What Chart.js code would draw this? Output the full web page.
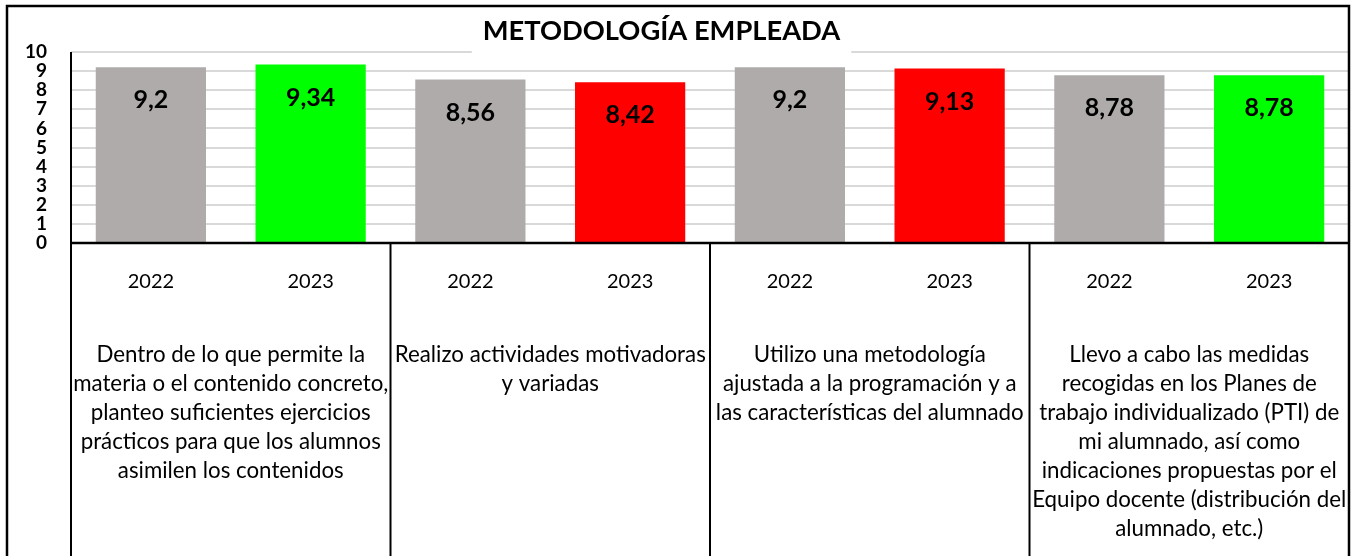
<!DOCTYPE html>
<html>
<head>
<meta charset="utf-8">
<script src="https://cdn.jsdelivr.net/npm/chart.js@4.4.1/dist/chart.umd.min.js"></script>
<style>
html,body{margin:0;padding:0;background:#fff;}
canvas{display:block;}
</style>
</head>
<body>
<canvas id="c" width="1354" height="556"></canvas>
<script>
const chartTitle = 'METODOLOGÍA EMPLEADA';
const categories = ['2022', '2023', '2022', '2023', '2022', '2023', '2022', '2023'];
const values = [9.2, 9.34, 8.56, 8.42, 9.2, 9.13, 8.78, 8.78];
const groupLabels = [
  ['Dentro de lo que permite la', 'materia o el contenido concreto,', 'planteo suficientes ejercicios', 'prácticos para que los alumnos', 'asimilen los contenidos'],
  ['Realizo actividades motivadoras', 'y variadas'],
  ['Utilizo una metodología', 'ajustada a la programación y a', 'las características del alumnado'],
  ['Llevo a cabo las medidas', 'recogidas en los Planes de', 'trabajo individualizado (PTI) de', 'mi alumnado, así como', 'indicaciones propuestas por el', 'Equipo docente (distribución del', 'alumnado, etc.)']
];
const yMin = 0, yMax = 10, yStep = 1;
const barColors = ['#AFABAB', '#00FF00', '#AFABAB', '#FF0000', '#AFABAB', '#FF0000', '#AFABAB', '#00FF00'];

const FONT = 'Lato, "Open Sans", sans-serif';

const decor = {
  id: 'decor',
  afterDatasetsDraw(chart) {
    const ctx = chart.ctx;
    const meta = chart.getDatasetMeta(0);
    ctx.save();
    ctx.fillStyle = '#000';
    ctx.font = 'bold 25px ' + FONT;
    ctx.textAlign = 'center';
    ctx.textBaseline = 'middle';
    meta.data.forEach((bar, i) => {
      const txt = String(values[i]).replace('.', ',');
      ctx.fillText(txt, bar.x, bar.y + 33);
    });
    ctx.restore();
  },
  afterDraw(chart) {
    const ctx = chart.ctx;
    const ca = chart.chartArea;
    const xs = chart.scales.x;
    const H = chart.height;
    ctx.save();
    ctx.strokeStyle = '#000';
    // outer border
    ctx.lineWidth = 2.5;
    ctx.beginPath();
    ctx.moveTo(7, H + 5); ctx.lineTo(7, 6); ctx.lineTo(ca.right, 6); ctx.lineTo(ca.right, H + 5);
    ctx.stroke();
    // y axis line
    ctx.lineWidth = 2;
    ctx.beginPath();
    ctx.moveTo(ca.left, ca.top); ctx.lineTo(ca.left, H + 5);
    ctx.stroke();
    // x axis line
    ctx.lineWidth = 2.5;
    ctx.beginPath();
    ctx.moveTo(ca.left, ca.bottom); ctx.lineTo(ca.right, ca.bottom);
    ctx.stroke();
    // group separators
    ctx.lineWidth = 2;
    const n = categories.length;
    const per = n / groupLabels.length;
    for (let g = 1; g < groupLabels.length; g++) {
      const x = (xs.getPixelForValue(g * per - 1) + xs.getPixelForValue(g * per)) / 2;
      ctx.beginPath();
      ctx.moveTo(x, ca.bottom); ctx.lineTo(x, H + 5);
      ctx.stroke();
    }
    // group labels
    ctx.fillStyle = '#000';
    ctx.font = '22.3px ' + FONT;
    ctx.textAlign = 'center';
    ctx.textBaseline = 'middle';
    groupLabels.forEach((lines, g) => {
      const cx = (xs.getPixelForValue(g * per) + xs.getPixelForValue(g * per + per - 1)) / 2;
      lines.forEach((ln, k) => ctx.fillText(ln, cx, 355 + k * 29));
    });
    // title with white box
    ctx.font = 'bold 27.3px ' + FONT;
    const tw = ctx.measureText(chartTitle).width;
    const tx = 661.5;
    ctx.fillStyle = '#fff';
    ctx.fillRect(tx - tw / 2 - 11, 10, tw + 22, 46);
    ctx.fillStyle = '#000';
    ctx.fillText(chartTitle, tx, 31);
    ctx.restore();
  }
};

new Chart(document.getElementById('c'), {
  type: 'bar',
  data: {
    labels: categories,
    datasets: [{
      data: values,
      backgroundColor: barColors,
      borderWidth: 0,
      categoryPercentage: 1,
      barPercentage: 0.69
    }]
  },
  options: {
    responsive: false,
    animation: false,
    devicePixelRatio: 1,
    layout: { padding: { top: 52, right: 5, left: 0, bottom: 0 } },
    plugins: { legend: { display: false }, tooltip: { enabled: false }, title: { display: false } },
    scales: {
      y: {
        min: yMin, max: yMax,
        ticks: { stepSize: yStep, autoSkip: false, color: '#000', font: { family: FONT, size: 19, weight: 'bold', lineHeight: 1 }, padding: 24 },
        grid: { color: '#D9D9D9', lineWidth: 2, drawTicks: false },
        border: { display: false },
        afterFit(s) { s.width = 71; }
      },
      x: {
        ticks: { color: '#000', font: { family: FONT, size: 20 }, padding: 27, maxRotation: 0, autoSkip: false },
        grid: { display: false, drawTicks: false },
        border: { display: false },
        afterFit(s) { s.height = 313; }
      }
    }
  },
  plugins: [decor]
});
</script>
</body>
</html>
